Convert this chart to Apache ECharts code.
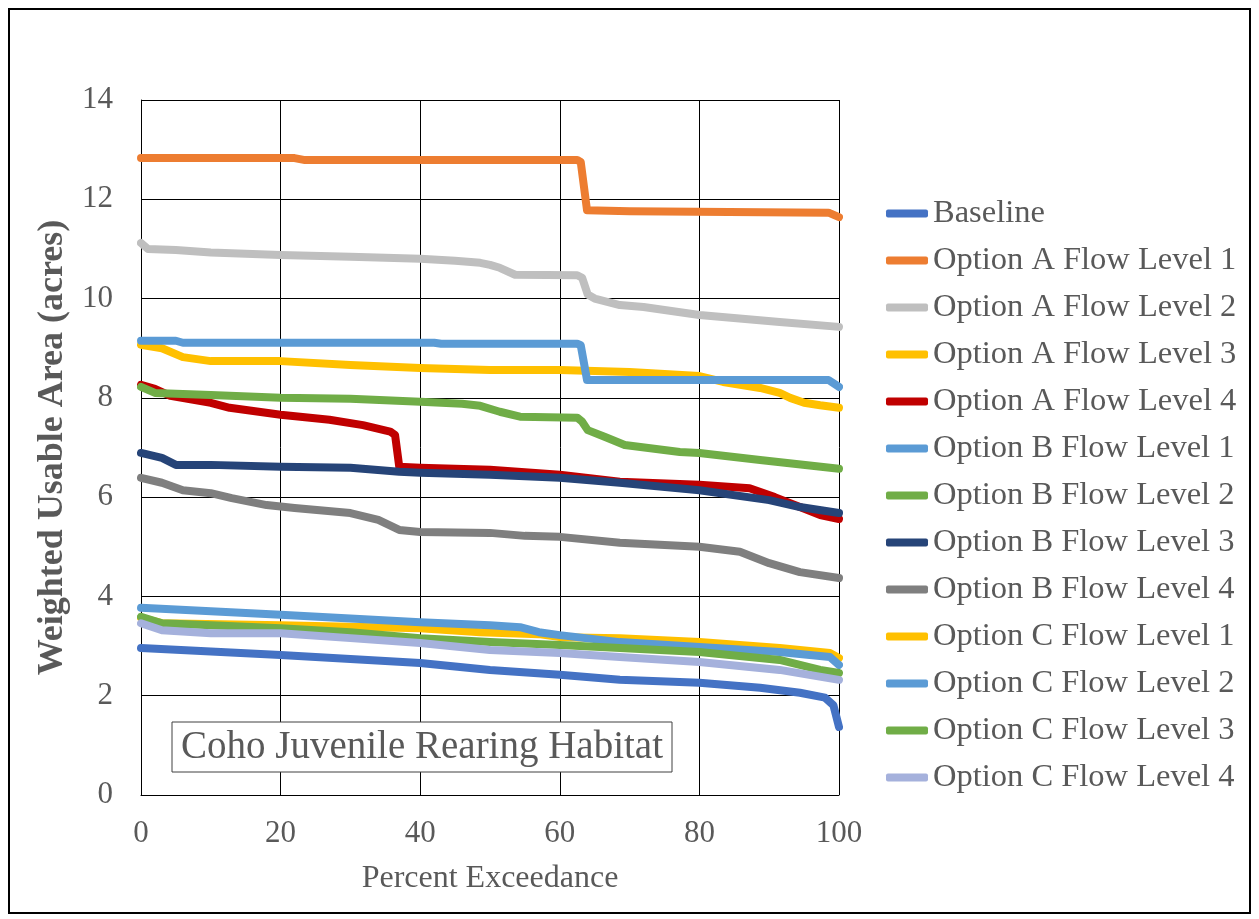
<!DOCTYPE html>
<html>
<head>
<meta charset="utf-8">
<script src="https://cdn.jsdelivr.net/npm/echarts@6/dist/echarts.min.js"></script>
<style>
html,body{margin:0;padding:0;background:#fff;}
#chart{width:1259px;height:919px;}
</style>
</head>
<body>
<div id="chart"></div>
<script>
const seriesNames = ["Baseline","Option A Flow Level 1","Option A Flow Level 2","Option A Flow Level 3","Option A Flow Level 4","Option B Flow Level 1","Option B Flow Level 2","Option B Flow Level 3","Option B Flow Level 4","Option C Flow Level 1","Option C Flow Level 2","Option C Flow Level 3","Option C Flow Level 4"];
const xTicks = [0,20,40,60,80,100];
const yTicks = [0,2,4,6,8,10,12,14];

const baseline = [[0,2.96],[10,2.89],[20,2.82],[30,2.74],[40,2.66],[50,2.52],[60,2.42],[68.6,2.32],[80,2.26],[88.7,2.16],[94.4,2.06],[98,1.96],[99.2,1.81],[100,1.37]];
const optA1 = [[0,12.83],[22,12.83],[23.5,12.79],[62.5,12.79],[63,12.75],[63.9,11.78],[70,11.76],[98.5,11.73],[100,11.64]];
const optA2 = [[0,11.12],[1,11.0],[5,10.98],[10,10.93],[20,10.88],[30,10.84],[40,10.8],[45,10.76],[48.6,10.72],[50,10.68],[51.4,10.62],[53.6,10.48],[62.5,10.47],[63.2,10.42],[64,10.08],[65,10.0],[68.6,9.87],[72,9.83],[80,9.67],[91.5,9.53],[100,9.43]];
const optA3 = [[0,9.07],[3,9.0],[6,8.82],[10,8.74],[20,8.74],[30,8.66],[40,8.6],[50,8.56],[60,8.56],[70,8.52],[80,8.44],[83.4,8.32],[88.7,8.2],[91.5,8.1],[93,8.0],[95,7.9],[97.3,7.85],[100,7.8]];
const optA4 = [[0,8.26],[2,8.18],[4.2,8.04],[10,7.9],[12.7,7.8],[20,7.66],[27,7.56],[31.8,7.45],[35.7,7.32],[36.4,7.25],[37,6.61],[40,6.59],[50,6.55],[60,6.45],[68.6,6.31],[80,6.25],[87.2,6.18],[90.8,6.0],[94.4,5.8],[97.3,5.64],[100,5.56]];
const optB1 = [[0,9.15],[5,9.15],[6,9.11],[42,9.11],[43,9.09],[62.5,9.09],[63,9.06],[63.9,8.36],[98.5,8.36],[100,8.22]];
const optB2 = [[0,8.22],[2,8.1],[10,8.06],[20,8.0],[30,7.98],[40,7.92],[46,7.88],[48.6,7.84],[51.4,7.72],[54.3,7.62],[62.5,7.6],[63.2,7.52],[64,7.35],[66.5,7.21],[69.3,7.05],[77.2,6.91],[80,6.89],[88.7,6.75],[100,6.57]];
const optB3 = [[0,6.89],[3,6.79],[5,6.65],[10,6.65],[20,6.61],[30,6.59],[37,6.51],[40,6.49],[50,6.45],[60,6.39],[68.6,6.29],[80,6.14],[90,5.94],[94.4,5.8],[100,5.68]];
const optB4 = [[0,6.39],[3,6.29],[6,6.14],[10,6.08],[13,5.98],[18,5.84],[22,5.78],[30,5.68],[34,5.54],[37,5.34],[40,5.3],[50,5.28],[55,5.22],[60,5.2],[68.6,5.08],[80,5.0],[85.8,4.9],[90,4.67],[94.4,4.49],[100,4.37]];
const optC1 = [[0,3.57],[3,3.46],[20,3.42],[40,3.36],[48.6,3.28],[57,3.24],[60,3.18],[68.6,3.16],[80,3.08],[91.5,2.96],[98.7,2.86],[100,2.76]];
const optC2 = [[0,3.77],[20,3.63],[40,3.48],[50,3.42],[54.3,3.38],[57,3.28],[60,3.22],[68.6,3.08],[80,2.98],[91.5,2.88],[98.7,2.78],[100,2.62]];
const optC3 = [[0,3.59],[3,3.46],[10,3.42],[20,3.36],[30,3.28],[40,3.16],[50,3.08],[60,3.02],[68.6,2.96],[80,2.88],[91.5,2.72],[97.3,2.52],[100,2.46]];
const optC4 = [[0,3.46],[3,3.32],[10,3.26],[20,3.26],[30,3.16],[40,3.06],[50,2.92],[60,2.86],[68.6,2.78],[80,2.68],[91.5,2.52],[100,2.32]];

const seriesData = [baseline,optA1,optA2,optA3,optA4,optB1,optB2,optB3,optB4,optC1,optC2,optC3,optC4];
const colors = ["#4472C4","#ED7D31","#BFBFBF","#FFC000","#C00000","#5B9BD5","#70AD47","#264478","#7F7F7F","#FFC000","#5B9BD5","#70AD47","#A5B1DC"];

const FONT = '"Liberation Serif","Times New Roman",serif';
const TXT = '#595959';

const chart = echarts.init(document.getElementById('chart'), null, {renderer:'canvas'});
chart.setOption({
  animation:false,
  backgroundColor:'#fff',
  color:colors,
  grid:{left:141, top:100, right:420, bottom:124, containLabel:false, show:false},
  xAxis:{
    type:'value', min:0, max:100, interval:20,
    name:'Percent Exceedance', nameLocation:'middle', nameGap:68,
    nameTextStyle:{fontFamily:FONT, fontSize:32, color:TXT},
    axisLine:{show:true, onZero:false, lineStyle:{color:'#000', width:1}},
    axisTick:{show:false},
    axisLabel:{fontFamily:FONT, fontSize:31, color:TXT, margin:23},
    splitLine:{show:true, lineStyle:{color:'#000', width:1}}
  },
  yAxis:{
    type:'value', min:0, max:14, interval:2,
    name:'Weighted Usable Area (acres)', nameLocation:'middle', nameGap:66,
    nameTextStyle:{fontFamily:FONT, fontSize:36, fontWeight:'bold', color:TXT},
    axisLine:{show:true, lineStyle:{color:'#000', width:1}},
    axisTick:{show:false},
    axisLabel:{fontFamily:FONT, fontSize:31, color:TXT, margin:28},
    splitLine:{show:true, lineStyle:{color:'#000', width:1}}
  },
  legend:{
    orient:'vertical', left:886, top:197, padding:0,
    itemWidth:42, itemHeight:8, itemGap:14,
    icon:'roundRect',
    textStyle:{fontFamily:FONT, fontSize:32.5, color:TXT},
    data:seriesNames
  },
  graphic:[
    {type:'rect', shape:{x:9, y:9, width:1241, height:904}, style:{fill:'none', stroke:'#000', lineWidth:2}, z:100},
    {type:'rect', shape:{x:172, y:722, width:500, height:50}, style:{fill:'#fff', stroke:'#404040', lineWidth:1}, z:100},
    {type:'text', x:422, y:748, style:{text:'Coho Juvenile Rearing Habitat', font:'39px '+FONT, fill:TXT, textAlign:'center', textVerticalAlign:'middle'}, z:101}
  ],
  series:seriesNames.map((n,i)=>({
    name:n, type:'line', data:seriesData[i], showSymbol:false, symbol:'none',
    lineStyle:{width:8, color:colors[i], cap:'round', join:'round'},
    itemStyle:{color:colors[i]},
    z:2+i
  }))
});
</script>
</body>
</html>
